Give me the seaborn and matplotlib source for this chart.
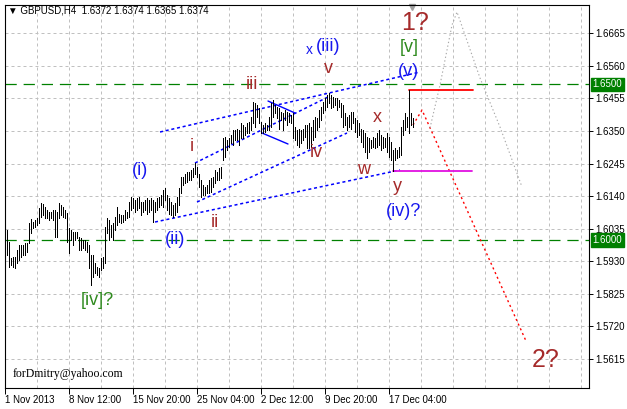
import matplotlib
matplotlib.use("Agg")
import matplotlib.pyplot as plt
import matplotlib.transforms as mtransforms
import numpy as np
import pandas as pd
import seaborn as sns

sns.set_theme(style="white")
plt.rcParams['font.family'] = ['Liberation Sans', 'DejaVu Sans']

# --- H4 bars (high / low), one value per bar ---
highs = [
    1.6042, 1.6031, 1.5993, 1.5939, 1.5945, 1.5945, 1.5966, 1.5982, 1.5982, 1.5982,
    1.5988, 1.5988, 1.6052, 1.6065, 1.6058, 1.6063, 1.6068, 1.6101, 1.6119, 1.6115,
    1.6106, 1.6095, 1.6090, 1.6090, 1.6095, 1.6095, 1.6090, 1.6117, 1.6111, 1.6106,
    1.6095, 1.6085, 1.6036, 1.6031, 1.6025, 1.6025, 1.6025, 1.6009, 1.6004, 1.5999,
    1.5999, 1.5993, 1.5982, 1.5950, 1.5950, 1.5923, 1.5913, 1.5907, 1.5939, 1.5945,
    1.6042, 1.6068, 1.6063, 1.6047, 1.6052, 1.6074, 1.6106, 1.6084, 1.6079, 1.6079,
    1.6095, 1.6090, 1.6122, 1.6138, 1.6133, 1.6127, 1.6133, 1.6138, 1.6122, 1.6122,
    1.6127, 1.6133, 1.6127, 1.6133, 1.6127, 1.6122, 1.6133, 1.6138, 1.6144, 1.6160,
    1.6165, 1.6144, 1.6133, 1.6122, 1.6111, 1.6117, 1.6138, 1.6165, 1.6203, 1.6203,
    1.6213, 1.6219, 1.6219, 1.6224, 1.6230, 1.6246, 1.6235, 1.6213, 1.6192, 1.6176,
    1.6170, 1.6176, 1.6192, 1.6197, 1.6203, 1.6224, 1.6219, 1.6230, 1.6235, 1.6326,
    1.6332, 1.6321, 1.6326, 1.6337, 1.6353, 1.6353, 1.6358, 1.6353, 1.6375, 1.6369,
    1.6364, 1.6375, 1.6380, 1.6396, 1.6445, 1.6439, 1.6434, 1.6423, 1.6380, 1.6369,
    1.6375, 1.6369, 1.6396, 1.6439, 1.6450, 1.6434, 1.6428, 1.6423, 1.6412, 1.6407,
    1.6418, 1.6412, 1.6407, 1.6402, 1.6407, 1.6364, 1.6353, 1.6358, 1.6353, 1.6358,
    1.6369, 1.6369, 1.6375, 1.6364, 1.6385, 1.6396, 1.6391, 1.6418, 1.6428, 1.6445,
    1.6455, 1.6466, 1.6471, 1.6466, 1.6461, 1.6455, 1.6455, 1.6450, 1.6439, 1.6434,
    1.6407, 1.6396, 1.6402, 1.6412, 1.6412, 1.6391, 1.6385, 1.6375, 1.6358, 1.6353,
    1.6342, 1.6332, 1.6326, 1.6321, 1.6332, 1.6326, 1.6342, 1.6353, 1.6337, 1.6332,
    1.6326, 1.6342, 1.6332, 1.6315, 1.6289, 1.6294, 1.6289, 1.6299, 1.6364, 1.6385,
    1.6407, 1.6396, 1.6482, 1.6407, 1.6391,
]
lows = [
    1.5988, 1.5950, 1.5910, 1.5918, 1.5910, 1.5907, 1.5923, 1.5934, 1.5945, 1.5950,
    1.5950, 1.5961, 1.5988, 1.6020, 1.6036, 1.6042, 1.6047, 1.6052, 1.6074, 1.6079,
    1.6068, 1.6068, 1.6063, 1.6068, 1.6063, 1.6009, 1.6009, 1.6068, 1.6079, 1.6074,
    1.6068, 1.5993, 1.5958, 1.5999, 1.5982, 1.5999, 1.6004, 1.5966, 1.5966, 1.5972,
    1.5966, 1.5961, 1.5907, 1.5853, 1.5880, 1.5891, 1.5886, 1.5880, 1.5902, 1.5907,
    1.5923, 1.6020, 1.5998, 1.6009, 1.5998, 1.6031, 1.6047, 1.6058, 1.6052, 1.6058,
    1.6063, 1.6068, 1.6074, 1.6095, 1.6101, 1.6090, 1.6095, 1.6101, 1.6079, 1.6090,
    1.6095, 1.6084, 1.6090, 1.6095, 1.6058, 1.6090, 1.6095, 1.6106, 1.6111, 1.6106,
    1.6127, 1.6095, 1.6084, 1.6079, 1.6074, 1.6079, 1.6090, 1.6111, 1.6149, 1.6176,
    1.6181, 1.6187, 1.6192, 1.6192, 1.6203, 1.6213, 1.6203, 1.6170, 1.6138, 1.6144,
    1.6144, 1.6149, 1.6150, 1.6154, 1.6170, 1.6181, 1.6192, 1.6192, 1.6197, 1.6256,
    1.6267, 1.6289, 1.6299, 1.6310, 1.6305, 1.6321, 1.6321, 1.6305, 1.6326, 1.6326,
    1.6337, 1.6342, 1.6342, 1.6353, 1.6375, 1.6364, 1.6396, 1.6375, 1.6342, 1.6342,
    1.6348, 1.6353, 1.6353, 1.6364, 1.6396, 1.6407, 1.6391, 1.6358, 1.6385, 1.6353,
    1.6385, 1.6369, 1.6380, 1.6375, 1.6326, 1.6321, 1.6305, 1.6299, 1.6310, 1.6321,
    1.6332, 1.6294, 1.6294, 1.6299, 1.6321, 1.6332, 1.6353, 1.6364, 1.6385, 1.6407,
    1.6418, 1.6428, 1.6439, 1.6423, 1.6428, 1.6434, 1.6418, 1.6428, 1.6396, 1.6364,
    1.6369, 1.6353, 1.6364, 1.6358, 1.6375, 1.6348, 1.6332, 1.6337, 1.6315, 1.6299,
    1.6283, 1.6262, 1.6283, 1.6294, 1.6299, 1.6294, 1.6299, 1.6305, 1.6289, 1.6294,
    1.6299, 1.6283, 1.6267, 1.6256, 1.6222, 1.6256, 1.6262, 1.6267, 1.6272, 1.6337,
    1.6353, 1.6364, 1.6342, 1.6369, 1.6364,
]

tick_bars = [0, 32, 64, 96, 128, 160, 192]
tick_labels = ['1 Nov 2013', '8 Nov 12:00', '15 Nov 20:00', '25 Nov 04:00',
               '2 Dec 12:00', '9 Dec 20:00', '17 Dec 04:00']
price_ticks = [1.5615, 1.5720, 1.5825, 1.5930, 1.6035, 1.6140,
               1.6245, 1.6350, 1.6455, 1.6560, 1.6665]
levels = [1.6500, 1.6000]

# wave channels (blue dotted) and triangle (blue solid)
channel_seg = ['A', 'A', 'B', 'B', 'C', 'C', 'D', 'D']
channel_bar = [77.5, 207.5, 75, 197.5, 95, 162.5, 96, 171]
channel_price = [1.63468, 1.65402, 1.60566, 1.62243, 1.62468, 1.64629, 1.61211, 1.63436]
wedge_seg = ['u', 'u', 'l', 'l']
wedge_bar = [131.5, 145, 128.5, 141.5]
wedge_price = [1.64467, 1.64080, 1.63436, 1.63081]

# forecast paths
red_bar = [204, 208.5, 260.5]
red_price = [1.63694, 1.64177, 1.56730]
gray_bar = [212.5, 217.5, 223.5, 226, 237.5, 247.5, 258.5]
gray_price = [1.63597, 1.64983, 1.66918, 1.67337, 1.65209, 1.63629, 1.61695]

# horizontal marks at the extremes
top_bar = [202, 234]
top_price = 1.6482
bot_bar = [194, 233.5]
bot_price = 1.6221

BLUE = '#1818ee'
BROWN = '#a52a2a'
GREEN = '#2f8a1e'
waves = [
    ('(i)', 67.5, 1.6224, BLUE, 13), ('(ii)', 85, 1.5999, BLUE, 13),
    ('i', 93.5, 1.6301, BROWN, 13), ('ii', 105, 1.6056, BROWN, 13),
    ('iii', 123.5, 1.6501, BROWN, 13), ('x', 152, 1.6611, BLUE, 10),
    ('(iii)', 161.5, 1.6624, BLUE, 13), ('v', 161.5, 1.6550, BROWN, 13),
    ('iv', 155.5, 1.6282, BROWN, 13), ('x', 186, 1.6395, BROWN, 13),
    ('w', 179.5, 1.6227, BROWN, 13), ('y', 196, 1.6170, BROWN, 13),
    ('(iv)?', 199.5, 1.6091, BLUE, 13), ('(v)', 201.5, 1.6543, BLUE, 13),
    ('[v]', 202, 1.6620, GREEN, 13), ('1?', 205, 1.6698, BROWN, 18),
    ('2?', 270.5, 1.5612, BROWN, 18), ('[iv]?', 46, 1.5805, GREEN, 13),
]

bars = pd.DataFrame({'bar': np.arange(len(highs)), 'high': highs, 'low': lows})
channels = pd.DataFrame({'seg': channel_seg, 'bar': channel_bar, 'price': channel_price})
wedge = pd.DataFrame({'seg': wedge_seg, 'bar': wedge_bar, 'price': wedge_price})

fig = plt.figure(figsize=(6.27, 4.09), dpi=100)
ax = fig.add_axes([0.0075, 0.0513, 0.9319, 0.9372])
ax.set_facecolor('white')
ax.set_axisbelow(True)

# grid
ax.set_xticks(tick_bars)
ax.set_xticklabels(tick_labels)
ax.set_xticks(np.arange(16, 289, 16), minor=True)
ax.set_yticks(price_ticks)
ax.set_yticklabels([f'{p:.4f}' for p in price_ticks])
ax.grid(True, which='both', color='#c0c0c0', linestyle=(0, (3, 3)), linewidth=0.72)

# support / resistance levels
for lv in levels:
    ax.axhline(lv, color='#008000', linewidth=0.9, linestyle=(0, (9, 5.5)), zorder=2)

# bars: thin 1px lines, 2px apart
ax.vlines(bars['bar'], bars['low'], bars['high'], color='black', linewidth=0.55,
          antialiased=False, zorder=4)

# channels
sns.lineplot(data=channels, x='bar', y='price', units='seg', estimator=None, sort=False,
             color='blue', linewidth=1.1, linestyle=(0, (2, 1.8)), ax=ax, zorder=3)
sns.lineplot(data=wedge, x='bar', y='price', units='seg', estimator=None, sort=False,
             color='blue', linewidth=1.0, ax=ax, zorder=3)

# forecast paths
sns.lineplot(x=red_bar, y=red_price, sort=False, color='red', linewidth=1.0,
             linestyle=(0, (1.5, 2.2)), ax=ax, zorder=3)
sns.lineplot(x=gray_bar, y=gray_price, sort=False, color='#a8a8a8', linewidth=0.8,
             linestyle=(0, (1.2, 2.2)), ax=ax, zorder=3)

ax.plot(top_bar, [top_price, top_price], color='red', linewidth=1.3, zorder=3)
ax.plot(bot_bar, [bot_price, bot_price], color='#e010e0', linewidth=1.3, zorder=3)

# wave labels
for txt, b, p, c, s in waves:
    ax.text(b, p, txt, color=c, fontsize=s, ha='center', va='center', zorder=5)

ax.set_xlim(-0.15, 292)
ax.set_ylim(1.55214, 1.67572)
ax.set_xlabel('')
ax.set_ylabel('')

ax.tick_params(axis='x', which='major', bottom=True, direction='out', length=4,
               width=0.7, color='black', pad=1, labelsize=7, labelcolor='black')
ax.tick_params(axis='x', which='minor', bottom=False, length=0)
for lbl in ax.get_xticklabels():
    lbl.set_horizontalalignment('left')
ax.yaxis.tick_right()
ax.tick_params(axis='y', which='major', right=True, left=False, direction='out',
               length=3, width=0.7, color='black', pad=1.5, labelsize=7, labelcolor='black')

for sp in ax.spines.values():
    sp.set_visible(True)
    sp.set_color('black')
    sp.set_linewidth(0.8)

# level labels on the price scale
trans = mtransforms.blended_transform_factory(ax.transAxes, ax.transData)
for lv in levels:
    ax.text(1.006, lv, f'{lv:.4f}', transform=trans, ha='left', va='center', fontsize=7,
            color='white', clip_on=False,
            bbox=dict(boxstyle='square,pad=0.2', facecolor='#008000', edgecolor='#008000'))

ax.text(0.0056, 0.984, '\u25bc GBPUSD,H4  1.6372 1.6374 1.6365 1.6374', transform=ax.transAxes,
        fontsize=7, ha='left', va='center', color='black')
ax.text(0.0142, 0.0365, 'forDmitry@yahoo.com', transform=ax.transAxes,
        family=['Liberation Serif', 'DejaVu Serif'], fontsize=8.5, ha='left', va='center',
        color='black')
ax.plot([0.697], [0.993], marker='v', transform=ax.transAxes, color='#a0a0a0',
        markersize=5, clip_on=False)

fig.savefig('out.png', dpi=100)
